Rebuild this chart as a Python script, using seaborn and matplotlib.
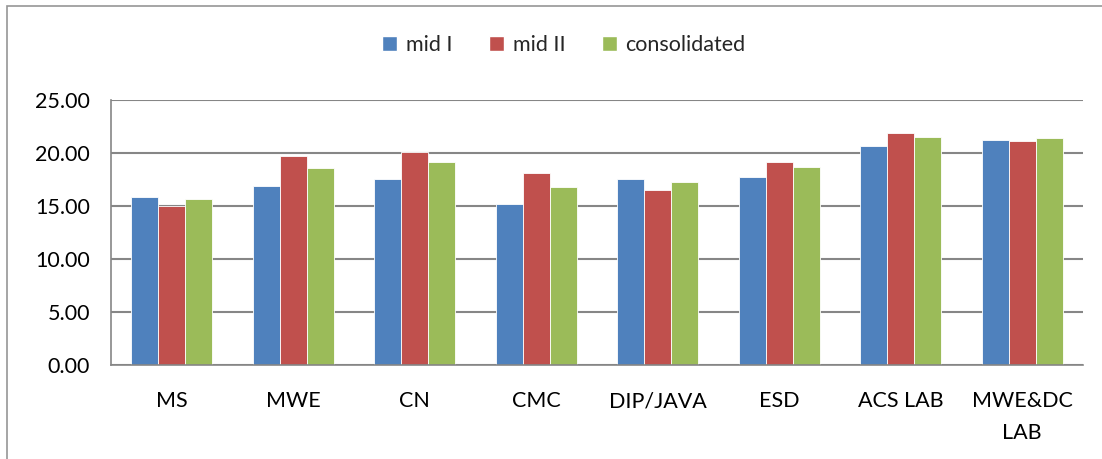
import numpy as np
import pandas as pd
import matplotlib
matplotlib.use("Agg")
import matplotlib.pyplot as plt
import seaborn as sns
from matplotlib.patches import Rectangle, Patch

subjects = ["MS", "MWE", "CN", "CMC", "DIP/JAVA", "ESD", "ACS LAB", "MWE&DC\nLAB"]
series = ["mid I", "mid II", "consolidated"]
mid1 = [15.85, 16.86, 17.58, 15.19, 17.55, 17.70, 20.66, 21.26]
mid2 = [15.03, 19.75, 20.13, 18.11, 16.54, 19.12, 21.89, 21.10]
consolidated = [15.63, 18.55, 19.12, 16.79, 17.26, 18.65, 21.48, 21.42]
colors = ["#4F81BD", "#C0504D", "#9BBB59"]
yticks = [0, 5, 10, 15, 20, 25]

df = pd.DataFrame({"subject": subjects * 3,
                   "series": np.repeat(series, len(subjects)),
                   "value": mid1 + mid2 + consolidated})

sns.set_style("white")
plt.rcParams["font.family"] = ["Lato", "DejaVu Sans"]
fs = 15.5

fig = plt.figure(figsize=(11.02, 4.59), dpi=100)
ax = fig.add_axes([111 / 1102, 1 - 365 / 459, (1083 - 111) / 1102, 265 / 459])

sns.barplot(data=df, x="subject", y="value", hue="series", order=subjects,
            hue_order=series, palette=colors, saturation=1, width=0.667,
            edgecolor="white", linewidth=0.6, ax=ax, legend=False)

grid = "#868686"
ax.set_ylim(0, 25)
ax.set_xlim(-0.5, len(subjects) - 0.5)
ax.set_yticks(yticks)
ax.set_yticklabels([f"{v:.2f}" for v in yticks], fontsize=fs, color="black")
ax.yaxis.grid(True, color=grid, linewidth=1.5)
ax.set_axisbelow(True)
ax.tick_params(axis="y", length=9, width=1.2, color=grid, pad=6)
ax.set_xticks(range(len(subjects)))
ax.set_xticklabels(subjects, fontsize=fs, linespacing=1.75, color="black")
ax.tick_params(axis="x", which="major", length=0, pad=19)
ax.set_xticks(np.arange(-0.5, len(subjects)), minor=True)
ax.tick_params(axis="x", which="minor", length=6, width=1.2, color=grid)
ax.set_xlabel("")
ax.set_ylabel("")
for s in ["top", "right"]:
    ax.spines[s].set_visible(False)
for s in ["left", "bottom"]:
    ax.spines[s].set_color(grid)
    ax.spines[s].set_linewidth(1.2)

handles = [Patch(facecolor=c, label=l) for c, l in zip(colors, series)]
fig.legend(handles=handles, loc="center", bbox_to_anchor=(564 / 1102, 1 - 45 / 459),
           ncol=3, frameon=False, fontsize=fs, handlelength=0.7, handleheight=0.7,
           handletextpad=0.4, columnspacing=1.7)

fig.patches.append(Rectangle((7 / 1102, -0.05), 1.2, 1 - 6 / 459 + 0.05,
                             transform=fig.transFigure, fill=False,
                             edgecolor="#969696", linewidth=1.2))

fig.savefig("out.png", dpi=100)
